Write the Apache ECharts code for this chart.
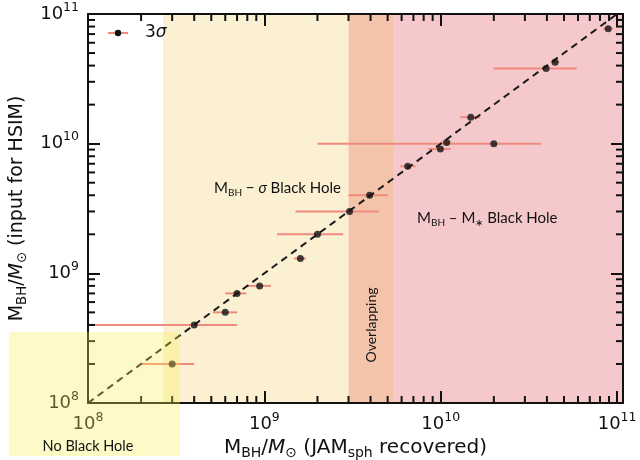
<!DOCTYPE html>
<html><head><meta charset="utf-8">
<script src="https://cdn.jsdelivr.net/npm/echarts@6/dist/echarts.min.js"></script>
<style>html,body{margin:0;padding:0;background:#fff}#c{width:640px;height:460px}</style>
</head><body><div id="c"></div>
<script>
// ---- data ----
const xRecovered = [3.0e8, 4.0e8, 6.0e8, 7.0e8, 9.4e8, 1.6e9, 2.0e9, 3.04e9, 3.95e9, 6.5e9, 9.95e9, 1.08e10, 2.0e10, 1.48e10, 3.96e10, 4.45e10, 8.9e10];
const yInput     = [2.0e8, 4.0e8, 5.0e8, 7.0e8, 8.0e8, 1.3e9, 2.0e9, 3.0e9, 4.0e9, 6.7e9, 9.1e9, 1.02e10, 1.0e10, 1.6e10, 3.8e10, 4.25e10, 7.7e10];
const xErrLow    = [2.0e8, 5.0e7, 5.1e8, 6.0e8, 8.0e8, 1.47e9, 1.18e9, 1.5e9, 3.0e9, 5.9e9, 8.5e9, 1.0e10, 2.0e9, 1.29e10, 2.0e10, 4.2e10, 8.35e10];
const xErrHigh   = [4.0e8, 7.0e8, 7.0e8, 7.9e8, 1.09e9, 1.72e9, 2.8e9, 4.45e9, 5.0e9, 7.2e9, 1.14e10, 1.15e10, 3.7e10, 1.67e10, 5.9e10, 4.7e10, 9.5e10];
const oneToOneX  = [1e8, 1e11];
const oneToOneY  = [1e8, 1e11];
const xRange = [1e8, 1.08e11];
const yRange = [1e8, 1e11];
const sigmaRegion   = [2.67e8, 3.0e9];
const overlapRegion = [3.0e9, 5.42e9];
const mstarRegion   = [5.42e9, 1.08e11];
const decades = [1e8, 1e9, 1e10];
const minorMult = [2, 3, 4, 5, 6, 7, 8, 9];

const minorX = [];
decades.forEach(d => minorMult.forEach(m => { const v = d * m; if (v < xRange[1]) minorX.push(v); }));
const minorY = [];
decades.forEach(d => minorMult.forEach(m => { const v = d * m; if (v < yRange[1]) minorY.push(v); }));

const FONT = 'DejaVu Sans';
const ANN = 'Lato';
const ERR = '#ef8a7e';

function powLabel(v) {
  const l = Math.log10(v), e = Math.round(l);
  if (Math.abs(l - e) > 1e-6) return '';
  return '{b|10}{e|' + e + '}';
}
function powLabelY(v) {
  if (Math.abs(v - yRange[0]) < 1) return '';   // drawn separately below (corner label)
  return powLabel(v);
}
const powRich = {
  b: {fontFamily: FONT, fontSize: 18, color: '#111', fill: '#111', lineHeight: 26},
  e: {fontFamily: FONT, fontSize: 12.5, color: '#111', fill: '#111', verticalAlign: 'top', lineHeight: 14}
};
function titleRich(fs) {
  return {
    n: {fontFamily: FONT, fontSize: fs, color: '#111', lineHeight: 24},
    i: {fontFamily: FONT, fontSize: fs, fontStyle: 'italic', color: '#111', lineHeight: 24},
    s: {fontFamily: FONT, fontSize: fs * 0.7, color: '#111', verticalAlign: 'bottom', lineHeight: 14}
  };
}

const axisCommon = {
  type: 'log', logBase: 10,
  axisLine: {show: true, lineStyle: {color: '#111', width: 2}},
  axisTick: {show: true, inside: true, length: 12, lineStyle: {color: '#111', width: 2}},
  splitLine: {show: false},
  z: 10
};

const chart = echarts.init(document.getElementById('c'), null, {renderer: 'canvas'});
chart.setOption({
  animation: false,
  backgroundColor: '#fff',
  grid: {left: 88, right: 17, top: 14, bottom: 57, containLabel: false, outerBoundsMode: 'none'},
  xAxis: [
    Object.assign({}, axisCommon, {
      min: xRange[0], max: xRange[1], position: 'bottom',
      axisLabel: {formatter: powLabel, rich: powRich, margin: 8, hideOverlap: false},
      name: '{n|M}{s|BH}{n|/}{i|M}{s|⊙}{n| (JAM}{s|sph}{n| recovered)}',
      nameLocation: 'middle', nameGap: 27,
      nameTextStyle: {rich: titleRich(20)}
    }),
    Object.assign({}, axisCommon, {
      min: xRange[0], max: xRange[1], position: 'top',
      axisLabel: {show: false}
    })
  ],
  yAxis: [
    Object.assign({}, axisCommon, {
      min: yRange[0], max: yRange[1], position: 'left',
      axisLabel: {formatter: powLabelY, rich: powRich, margin: 9, hideOverlap: false},
      name: '{n|M}{s|BH}{n|/}{i|M}{s|⊙}{n| (input for HSIM)}',
      nameLocation: 'middle', nameGap: 56, nameRotate: 90,
      nameTextStyle: {rich: titleRich(19)}
    }),
    Object.assign({}, axisCommon, {
      min: yRange[0], max: yRange[1], position: 'right',
      axisLabel: {show: false}
    })
  ],
  series: [
    {
      type: 'line', data: [], silent: true,
      markArea: {
        silent: true,
        data: [
          [{xAxis: sigmaRegion[0], itemStyle: {color: '#fcf0d2'}}, {xAxis: sigmaRegion[1]}],
          [{xAxis: overlapRegion[0], itemStyle: {color: '#f4c4aa'}}, {xAxis: overlapRegion[1]}],
          [{xAxis: mstarRegion[0], itemStyle: {color: '#f5c9cb'}}, {xAxis: mstarRegion[1]}]
        ]
      }
    },
    {
      type: 'custom', name: 'err', silent: true, z: 3,
      data: xRecovered.map((x, i) => [x, yInput[i], xErrLow[i], xErrHigh[i]]),
      encode: {x: 0, y: 1},
      renderItem: function (params, api) {
        const y = api.value(1);
        const p1 = api.coord([api.value(2), y]);
        const p2 = api.coord([api.value(3), y]);
        const cs = params.coordSys;
        const x1 = Math.max(p1[0], cs.x), x2 = Math.min(p2[0], cs.x + cs.width);
        return {type: 'line', shape: {x1: x1, y1: p1[1], x2: x2, y2: p1[1]},
          style: {stroke: ERR, lineWidth: 2}};
      }
    },
    {
      type: 'line', z: 4, silent: true, symbol: 'none',
      data: oneToOneX.map((x, i) => [x, oneToOneY[i]]),
      lineStyle: {color: '#1a1a1a', width: 2, type: [7, 5]}
    },
    {
      type: 'scatter', z: 5, silent: true, symbolSize: 7,
      data: xRecovered.map((x, i) => [x, yInput[i]]),
      itemStyle: {color: '#111'}
    },
    {
      type: 'custom', z: 11, silent: true,
      data: minorX.map(v => [v, yRange[0]]),
      renderItem: function (params, api) {
        const p = api.coord([api.value(0), yRange[0]]);
        const cs = params.coordSys;
        const b = cs.y + cs.height, t = cs.y;
        return {type: 'group', children: [
          {type: 'line', shape: {x1: p[0], y1: b, x2: p[0], y2: b - 7}, style: {stroke: '#111', lineWidth: 2}},
          {type: 'line', shape: {x1: p[0], y1: t, x2: p[0], y2: t + 7}, style: {stroke: '#111', lineWidth: 2}}
        ]};
      }
    },
    {
      type: 'custom', z: 11, silent: true,
      data: minorY.map(v => [xRange[0], v]),
      renderItem: function (params, api) {
        const p = api.coord([xRange[0], api.value(1)]);
        const cs = params.coordSys;
        const l = cs.x, r = cs.x + cs.width;
        return {type: 'group', children: [
          {type: 'line', shape: {x1: l, y1: p[1], x2: l + 7, y2: p[1]}, style: {stroke: '#111', lineWidth: 2}},
          {type: 'line', shape: {x1: r, y1: p[1], x2: r - 7, y2: p[1]}, style: {stroke: '#111', lineWidth: 2}}
        ]};
      }
    }
  ],
  graphic: [
    // corner y tick label 10^8
    {type: 'text', z: 50, style: {x: 79, y: 403, text: '{b|10}{e|8}', align: 'right', verticalAlign: 'middle', rich: powRich}},
    // legend
    {type: 'line', z: 120, shape: {x1: 108, y1: 33, x2: 128, y2: 33}, style: {stroke: ERR, lineWidth: 2}},
    {type: 'circle', z: 121, shape: {cx: 118, cy: 33, r: 3.2}, style: {fill: '#111'}},
    {type: 'text', z: 121, style: {x: 145, y: 33, text: '{n|3}{i|σ}', verticalAlign: 'middle',
      rich: {n: {fontFamily: FONT, fontSize: 17, fill: '#111'}, i: {fontFamily: FONT, fontSize: 17, fontStyle: 'italic', fill: '#111'}}}},
    // annotations
    {type: 'text', z: 120, style: {x: 214, y: 188, verticalAlign: 'middle',
      text: '{n|M}{s|BH}{n| − }{i|σ}{n| Black Hole}',
      rich: {n: {fontFamily: ANN, fontSize: 15, fill: '#111', lineHeight: 20},
             i: {fontFamily: ANN, fontSize: 15, fontStyle: 'italic', fill: '#111', lineHeight: 20},
             s: {fontFamily: ANN, fontSize: 10, fill: '#111', verticalAlign: 'bottom', lineHeight: 12}}}},
    {type: 'text', z: 120, style: {x: 417, y: 218, verticalAlign: 'middle',
      text: '{n|M}{s|BH}{n| – M}{s|∗}{n| Black Hole}',
      rich: {n: {fontFamily: ANN, fontSize: 15, fill: '#111', lineHeight: 20},
             s: {fontFamily: ANN, fontSize: 10, fill: '#111', verticalAlign: 'bottom', lineHeight: 12}}}},
    {type: 'text', z: 120, x: 371, y: 325, rotation: Math.PI / 2,
      style: {x: 0, y: 0, text: 'Overlapping', align: 'center', verticalAlign: 'middle',
        fontFamily: ANN, fontSize: 14, fill: '#111'}},
    // No Black Hole overlay
    {type: 'rect', z: 200, shape: {x: 9, y: 332, width: 171, height: 124},
      style: {fill: 'rgba(249,239,83,0.32)'}},
    {type: 'text', z: 201, style: {x: 88, y: 446, text: 'No Black Hole', align: 'center', verticalAlign: 'middle',
      fontFamily: ANN, fontSize: 14.5, fill: '#111'}}
  ]
});
</script>
</body></html>
